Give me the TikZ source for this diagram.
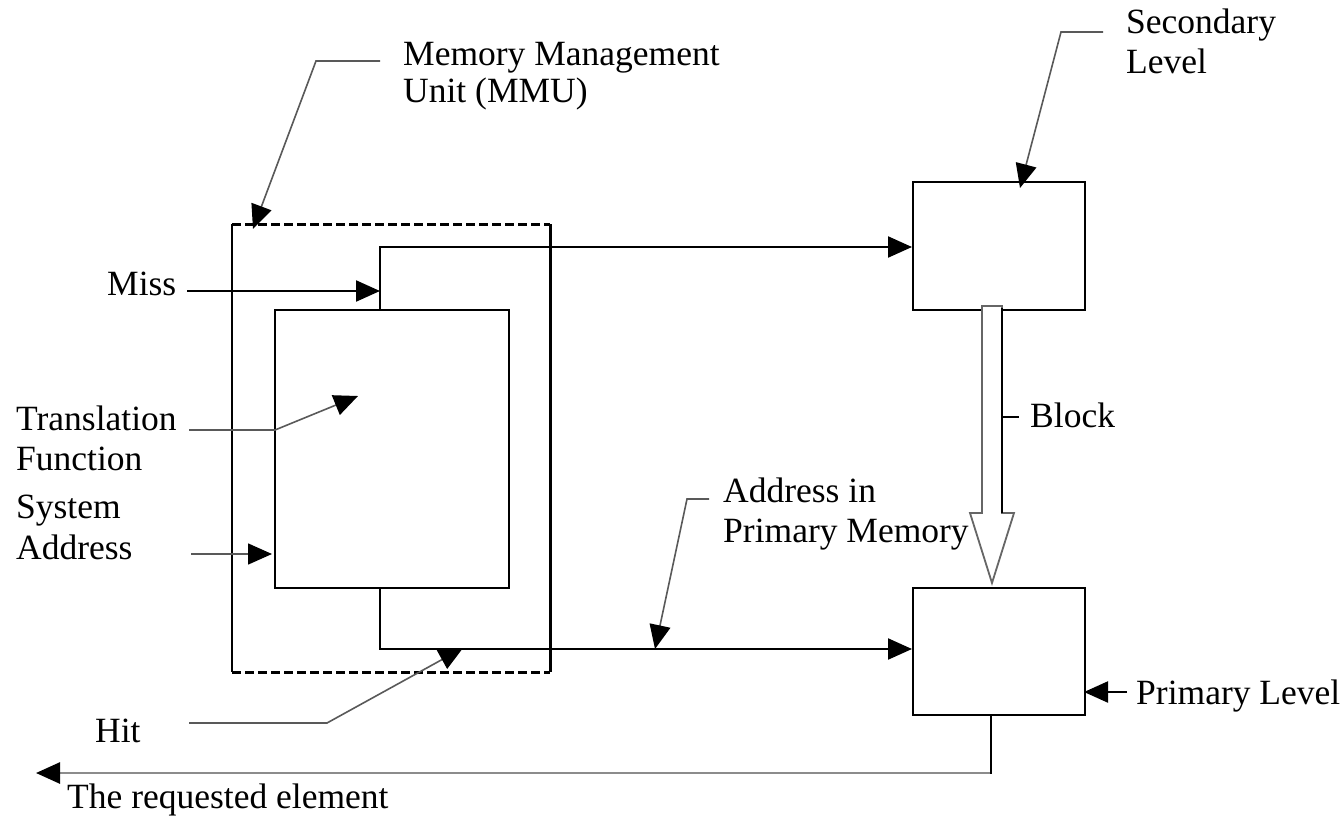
\documentclass[tikz,border=0pt]{standalone}
\usepackage{fontspec}
\setmainfont{Liberation Serif}
\usetikzlibrary{arrows.meta}
\begin{document}
\begin{tikzpicture}[x=1pt,y=-1pt,
  box/.style={draw, line width=2.2pt, inner sep=0pt, anchor=north west},
  wire/.style={line width=2.2pt},
  leader/.style={line width=1.6pt, draw=black!65},
  tip/.style={-{Triangle[length=24pt,width=21pt,color=black]}},
  lbl/.style={font=\fontsize{35.5}{40}\selectfont, inner sep=0pt, align=left, anchor=base west},
  mmuedge/.style={line width=3pt, dash pattern=on 9pt off 4pt},
]
\useasboundingbox (0,0) rectangle (1342,817);

% memory management unit frame (dashed top and bottom)
\node[inner sep=0pt, minimum width=318pt, minimum height=448pt, anchor=north west] (mmu) at (232,224) {};
\draw[wire] (mmu.north west) -- (mmu.south west);
\draw[wire] (mmu.north east) -- (mmu.south east);
\draw[mmuedge] (mmu.north west) -- (mmu.north east);
\draw[mmuedge] (mmu.south west) -- (mmu.south east);

% translation function, secondary and primary levels
\node[box, minimum width=234pt, minimum height=278pt] (trans) at (274,309) {};
\node[box, minimum width=172pt, minimum height=128pt] (sec) at (912,181) {};
\node[box, minimum width=172pt, minimum height=127pt] (prim) at (912,587) {};

% labels (multi-line labels are placed by the baseline of their last line)
\node[lbl, font=\fontsize{35.5}{37}\selectfont] (lmmu) at (403,102) {Memory Management\\Unit (MMU)};
\node[lbl] (lsec) at (1126,73) {Secondary\\Level};
\node[lbl] (lmiss) at (107,295) {Miss};
\node[lbl] (ltrans) at (16,470) {Translation\\Function};
\node[lbl, font=\fontsize{35.5}{41}\selectfont] (lsys) at (16,559) {System\\Address};
\node[lbl] (laddr) at (723,542) {Address in\\Primary Memory};
\node[lbl] (lblock) at (1030,427) {Block};
\node[lbl] (lprim) at (1136,704) {Primary Level};
\node[lbl] (lhit) at (95,742) {Hit};
\node[lbl] (lout) at (67,808) {The requested element};

% leader points
\coordinate (tap) at (380,0);
\coordinate (missfrom) at (187,291);
\coordinate (missto) at (380,291);
\coordinate (secin) at (912,247);
\coordinate (primin) at (912,649);
\coordinate (mmuA) at (380,61);
\coordinate (mmuB) at (316,61);
\coordinate (mmuT) at (253,229);
\coordinate (secA) at (1103,32);
\coordinate (secB) at (1061,32);
\coordinate (secT) at (1020,188);
\coordinate (trA) at (189,430);
\coordinate (trB) at (275,430);
\coordinate (trT) at (358,396);
\coordinate (sysA) at (191,554);
\coordinate (sysT) at (272,554);
\coordinate (adA) at (709,499);
\coordinate (adB) at (687,499);
\coordinate (adT) at (655,649);
\coordinate (hitA) at (189,723);
\coordinate (hitB) at (327,723);
\coordinate (hitT) at (463,648);
\coordinate (plA) at (1127,692);
\coordinate (plT) at (1084,692);
\coordinate (bkA) at (1002,417);
\coordinate (bkB) at (1019,417);
\coordinate (outx) at (991,0);
\coordinate (outC) at (991,773);
\coordinate (outT) at (36,773);

% miss path to secondary level
\draw[wire, tip] (missfrom) -- (missto);
\draw[wire, tip] (trans.north -| tap) -- (tap |- secin) -- (secin);

% hit path to primary level
\draw[wire, tip] (trans.south -| tap) |- (primin);

% block transfer arrow
\filldraw[fill=white, draw=black!60, line width=1.8pt]
  (982,306) -- (982,513) -- (970,513) -- (992,583) -- (1014,513) -- (1002,513) -- (1002,306) -- cycle;
\draw[line width=1.8pt] (1002,308) -- (1002,513);
\draw[line width=1.6pt] (bkA) -- (bkB);

% requested element out of primary level
\draw[line width=2.6pt, draw=black!45, tip] (prim.south -| outx) -- (outC) -- (outT);
\draw[wire] (prim.south -| outx) -- ([yshift=-1pt]outC);

% leaders
\draw[leader, tip] (mmuA) -- (mmuB) -- (mmuT);
\draw[leader, tip] (secA) -- (secB) -- (secT);
\draw[leader, tip] (trA) -- (trB) -- (trT);
\draw[leader, tip] (sysA) -- (sysT);
\draw[leader, tip] (adA) -- (adB) -- (adT);
\draw[leader, tip] (hitA) -- (hitB) -- (hitT);
\draw[wire, tip] (plA) -- (plT);
\end{tikzpicture}
\end{document}
